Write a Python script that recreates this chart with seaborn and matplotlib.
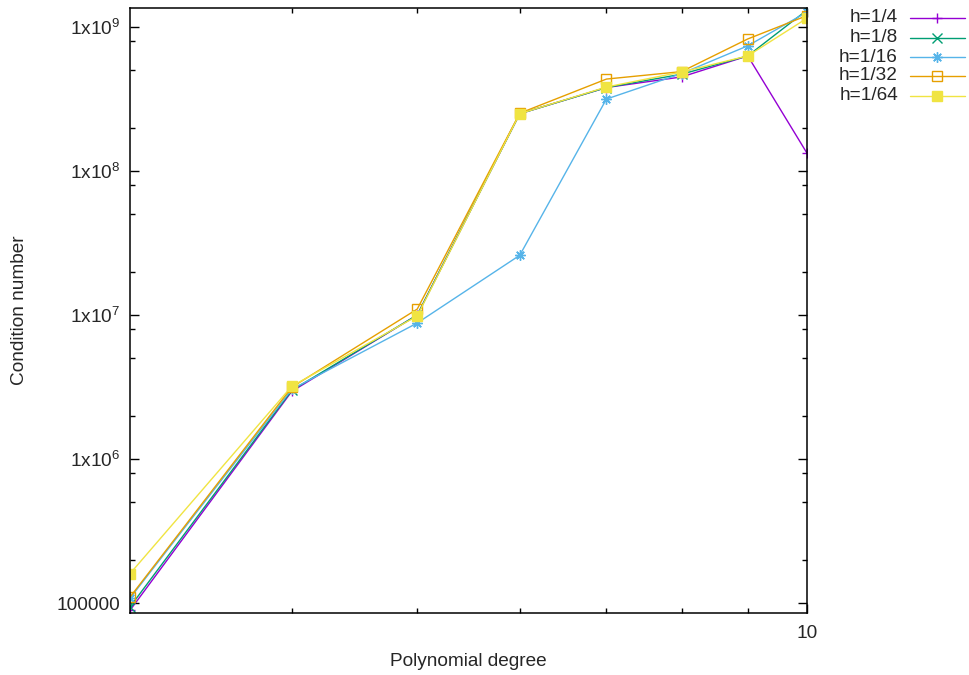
import numpy as np
import pandas as pd
import matplotlib
matplotlib.use("Agg")
import matplotlib.pyplot as plt
import matplotlib.ticker as mticker
from matplotlib.lines import Line2D
import seaborn as sns

# Data (condition number vs polynomial degree)
degrees = [3, 4, 5, 6, 7, 8, 9, 10]
cond_h4 = [8.9e4, 2.95e6, 1.0e7, 2.5e8, 3.8e8, 4.5e8, 6.3e8, 1.33e8]
cond_h8 = [9.4e4, 3.0e6, 1.0e7, 2.5e8, 3.8e8, 4.7e8, 6.3e8, 1.31e9]
cond_h16 = [1.08e5, 3.05e6, 8.8e6, 2.6e7, 3.16e8, 4.75e8, 7.4e8, 1.27e9]
cond_h32 = [1.1e5, 3.15e6, 1.1e7, 2.52e8, 4.35e8, 4.9e8, 8.26e8, 1.2e9]
cond_h64 = [1.6e5, 3.2e6, 9.85e6, 2.5e8, 3.83e8, 4.87e8, 6.3e8, 1.15e9]

series_labels = ["h=1/4", "h=1/8", "h=1/16", "h=1/32", "h=1/64"]
series_values = [cond_h4, cond_h8, cond_h16, cond_h32, cond_h64]
series_colors = ["#9400d3", "#009e73", "#56b4e9", "#e69f00", "#f0e442"]
series_markers = ["+", "x", (8, 2, 0), "s", "s"]
series_filled = [True, True, True, False, True]

ytick_values = [1e5, 1e6, 1e7, 1e8, 1e9]
ytick_labels = ["100000", r"1x10$^{6}$", r"1x10$^{7}$", r"1x10$^{8}$", r"1x10$^{9}$"]

FS = 13.7

sns.set_style("ticks")
plt.rcParams["font.family"] = ["Liberation Sans", "DejaVu Sans"]
plt.rcParams["mathtext.fontset"] = "custom"
plt.rcParams["mathtext.rm"] = "Liberation Sans"
plt.rcParams["mathtext.default"] = "regular"

fig = plt.figure(figsize=(9.7, 6.75), dpi=100)
ax = fig.add_axes([130 / 970, 62 / 675, 677 / 970, 605 / 675])


def msize(m):
    return 6.8 if m == "s" else 7.5


for label, vals, color, marker, filled in zip(
    series_labels, series_values, series_colors, series_markers, series_filled
):
    df = pd.DataFrame({"degree": degrees, "cond": vals})
    sns.lineplot(
        data=df, x="degree", y="cond", ax=ax, color=color, lw=1,
        marker=marker, ms=msize(marker),
        mec=color, mfc=color if filled else "none", mew=1.0,
        estimator=None, sort=False,
    )

ax.set_xscale("log")
ax.set_yscale("log")
ax.set_xlim(3, 10)
ax.set_ylim(8.53e4, 1.355e9)

# x ticks: only 10 labelled, integer minor ticks
ax.xaxis.set_major_locator(mticker.FixedLocator([10]))
ax.xaxis.set_major_formatter(mticker.FixedFormatter(["10"]))
ax.xaxis.set_minor_locator(mticker.FixedLocator([4, 5, 6, 7, 8, 9]))
ax.xaxis.set_minor_formatter(mticker.NullFormatter())

ax.yaxis.set_major_locator(mticker.FixedLocator(ytick_values))
ax.yaxis.set_major_formatter(mticker.FixedFormatter(ytick_labels))
ax.yaxis.set_minor_locator(mticker.LogLocator(base=10, subs=[2, 5, 8], numticks=20))
ax.yaxis.set_minor_formatter(mticker.NullFormatter())

ax.tick_params(which="both", direction="in", top=True, right=True,
               color="black", width=1, labelsize=FS)
ax.tick_params(axis="y", pad=7)
ax.tick_params(axis="x", pad=9)
ax.tick_params(which="major", length=6.5)
ax.tick_params(which="minor", length=3.3)
for s in ax.spines.values():
    s.set_linewidth(1.1)
    s.set_color("black")

ax.set_xlabel("Polynomial degree", fontsize=FS)
ax.set_ylabel("Condition number", fontsize=FS)
ax.xaxis.set_label_coords(0.5, -0.066)
ax.yaxis.set_label_coords(-0.15, 0.5)

# gnuplot-style key outside top-right: right-aligned text, sample on the right
row_y = [18, 38, 57, 76, 96]
for label, color, marker, filled, ry in zip(
    series_labels, series_colors, series_markers, series_filled, row_y
):
    yf = 1 - ry / 675
    fig.text(898 / 970, yf, label, ha="right", va="center", fontsize=FS)
    fig.add_artist(Line2D([910 / 970, 965 / 970], [yf, yf], transform=fig.transFigure,
                          color=color, lw=1))
    fig.add_artist(Line2D([937 / 970], [yf], transform=fig.transFigure, color=color,
                          marker=marker, ms=msize(marker), mec=color,
                          mfc=color if filled else "none", mew=1.0, lw=0))

fig.savefig("out.png", dpi=100)
